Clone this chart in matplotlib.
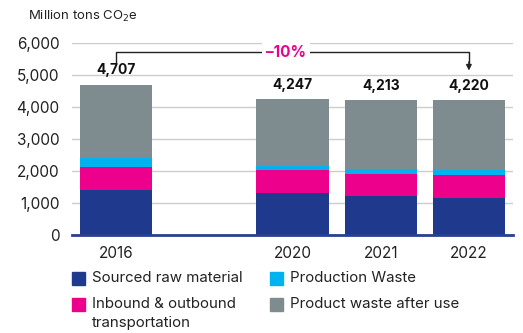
import numpy as np
import matplotlib.pyplot as plt
from matplotlib.patches import Rectangle

plt.rcParams['font.family'] = ['Inter', 'DejaVu Sans']

# emissions by source, million tons CO2e
years = ['2016', '2020', '2021', '2022']
raw_material = [1415, 1320, 1230, 1165]
transport = [720, 720, 695, 720]
production_waste = [290, 135, 150, 155]
after_use = [2282, 2072, 2138, 2180]
totals = [4707, 4247, 4213, 4220]
change_label = '\u201310%'

series = [
    ('Sourced raw material', raw_material, '#1f398c'),
    ('Inbound & outbound\ntransportation', transport, '#ec008c'),
    ('Production Waste', production_waste, '#00b2ef'),
    ('Product waste after use', after_use, '#7f8c8f'),
]

pos = [0, 2, 3, 4]  # gap left between 2016 and 2020

fig = plt.figure(figsize=(5.23, 3.33), dpi=100)
ax = fig.add_axes([72/523, 1 - 235.3/333, 441/523, 192/333])

bottom = np.zeros(len(years))
for name, vals, col in series:
    ax.bar(pos, vals, width=0.82, bottom=bottom, color=col, zorder=2)
    bottom += np.array(vals)

for x, t in zip(pos, totals):
    ax.text(x, t + 240, f'{t:,}', ha='center', va='bottom', fontsize=10,
            fontweight='bold', color='#111111')

ax.set_xlim(-0.5, 4.5)
ax.set_ylim(0, 6000)
ax.set_yticks(range(0, 6001, 1000))
ax.set_yticklabels([f'{v:,}' for v in range(0, 6001, 1000)])
ax.yaxis.grid(True, color='#cccccc', lw=1, zorder=0)
ax.set_axisbelow(True)
ax.set_xticks(pos)
ax.set_xticklabels(years)
ax.tick_params(axis='both', length=0, labelsize=11, colors='#222222')
ax.tick_params(axis='y', pad=9)
ax.tick_params(axis='x', pad=8)
for s in ['left', 'right', 'top']:
    ax.spines[s].set_visible(False)
ax.spines['bottom'].set_color('#2a3f8f')
ax.spines['bottom'].set_linewidth(2)
ax.spines['bottom'].set_zorder(3)

# bracket from 2016 to 2022 with the change label
y_br = 5720
ax.plot([pos[0], pos[0], pos[-1], pos[-1]], [totals[0] + 700, y_br, y_br, 5400],
        color='#222222', lw=1, zorder=3)
ax.annotate('', xy=(pos[-1], 5150), xytext=(pos[-1], 5420),
            arrowprops=dict(arrowstyle='-|>', color='#222222', lw=1,
                            mutation_scale=8, shrinkA=0, shrinkB=0))
ax.text(1.93, y_br, change_label, ha='center', va='center', fontsize=11,
        fontweight='bold', color='#ec008c', zorder=4,
        bbox=dict(facecolor='white', edgecolor='none', pad=3))

fig.text(28/523, 1 - 16/333, 'Million tons CO$_2$e', fontsize=9.5,
         color='#222222', va='center', ha='left')

# legend drawn by hand in figure pixels
leg = [(72, 278, 0), (72, 304, 1), (270, 278, 2), (270, 304, 3)]
for x, y, i in leg:
    name, _, col = series[i]
    fig.patches.append(Rectangle((x/523, 1 - (y + 6.5)/333), 13/523, 13/333,
                                 transform=fig.transFigure, color=col))
    fig.text((x + 20)/523, 1 - (y - 7)/333, name, fontsize=10.8,
             color='#222222', va='top', ha='left', linespacing=1.5)

fig.savefig('out.png', dpi=100)
